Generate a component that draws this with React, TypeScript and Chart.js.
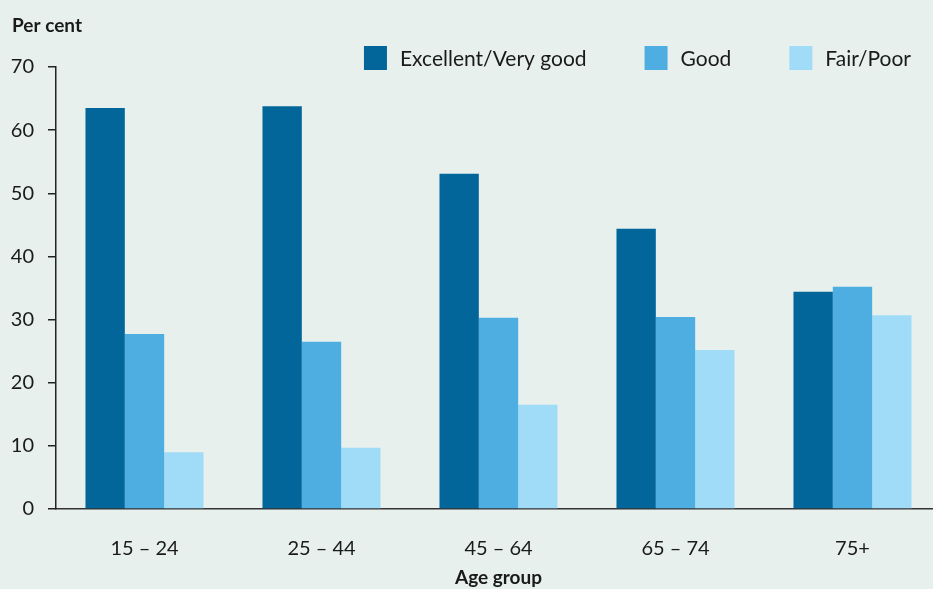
import React, { useEffect, useRef } from "react";
import { Chart, registerables } from "chart.js";

Chart.register(...registerables);

const categories = ["15 – 24", "25 – 44", "45 – 64", "65 – 74", "75+"];
const excellentVeryGood = [63.5, 63.8, 53.1, 44.4, 34.4];
const good = [27.7, 26.5, 30.3, 30.4, 35.2];
const fairPoor = [9.0, 9.7, 16.5, 25.2, 30.7];
const seriesLabels = ["Excellent/Very good", "Good", "Fair/Poor"];
const yTicks = [0, 10, 20, 30, 40, 50, 60, 70];

const COLORS = ["#03669b", "#4faee1", "#a0dcf7"];
const BG = "#e7f0ec";
const FONT = "Lato, 'Noto Sans', sans-serif";
const TEXT = "#1a1a1a";

const overlay = {
  id: "overlay",
  afterDraw(chart: any) {
    const ctx = chart.ctx;
    ctx.save();
    ctx.fillStyle = TEXT;
    ctx.font = `bold 19px ${FONT}`;
    ctx.textAlign = "left";
    ctx.textBaseline = "middle";
    ctx.fillText("Per cent", 12, 26);
    ctx.font = `21px ${FONT}`;
    const boxW = 23;
    const boxH = 24;
    const gapBoxText = 13;
    const gapItems = 58;
    const rightEdge = 911;
    const widths = chart.data.datasets.map((d: any) => boxW + gapBoxText + ctx.measureText(d.label).width);
    const total = widths.reduce((a: number, b: number) => a + b, 0) + gapItems * (widths.length - 1);
    let x = rightEdge - total;
    const cy = 58;
    chart.data.datasets.forEach((d: any, i: number) => {
      ctx.fillStyle = d.backgroundColor;
      ctx.fillRect(x, cy - boxH / 2, boxW, boxH);
      ctx.fillStyle = TEXT;
      ctx.textBaseline = "middle";
      ctx.fillText(d.label, x + boxW + gapBoxText, cy + 1);
      x += widths[i] + gapItems;
    });
    ctx.restore();
  },
};

const bgPlugin = {
  id: "bg",
  beforeDraw(chart: any) {
    const ctx = chart.ctx;
    ctx.save();
    ctx.fillStyle = BG;
    ctx.fillRect(0, 0, chart.width, chart.height);
    ctx.restore();
  },
};

export default function App() {
  const ref = useRef<HTMLCanvasElement>(null);
  useEffect(() => {
    document.body.style.margin = "0";
    document.body.style.background = BG;
    const chart = new Chart(ref.current!, {
      type: "bar",
      data: {
        labels: categories,
        datasets: [excellentVeryGood, good, fairPoor].map((data, i) => ({
          label: seriesLabels[i],
          data,
          backgroundColor: COLORS[i],
          borderWidth: 0,
          categoryPercentage: 0.667,
          barPercentage: 1,
        })),
      },
      options: {
        responsive: false,
        animation: false,
        layout: { padding: { top: 67, left: 0, right: 0, bottom: 0 } },
        plugins: { legend: { display: false }, tooltip: { enabled: false } },
        scales: {
          x: {
            grid: { display: false },
            border: { display: true, color: "#333", width: 1.5 },
            ticks: { color: TEXT, font: { family: FONT, size: 20 }, padding: 20 },
            title: {
              display: true,
              text: "Age group",
              color: TEXT,
              font: { family: FONT, size: 19, weight: "bold" },
              padding: { top: 14, bottom: 0 },
            },
            afterFit(scale: any) {
              scale.height = 80;
            },
          },
          y: {
            min: 0,
            max: 70,
            afterBuildTicks(scale: any) {
              scale.ticks = yTicks.map((v) => ({ value: v }));
            },
            grid: { display: true, drawOnChartArea: false, drawTicks: true, tickLength: 8, color: "#222", lineWidth: 1.5 },
            border: { display: true, color: "#222", width: 1.5 },
            ticks: { color: TEXT, font: { family: FONT, size: 20 }, padding: 14 },
            afterFit(scale: any) {
              scale.width = 56;
            },
          },
        },
      },
      plugins: [bgPlugin, overlay],
    });
    return () => chart.destroy();
  }, []);
  return (
    <div style={{ width: 933, height: 589, overflow: "hidden", background: BG }}>
      <canvas ref={ref} width={941} height={589} style={{ display: "block" }} />
    </div>
  );
}
